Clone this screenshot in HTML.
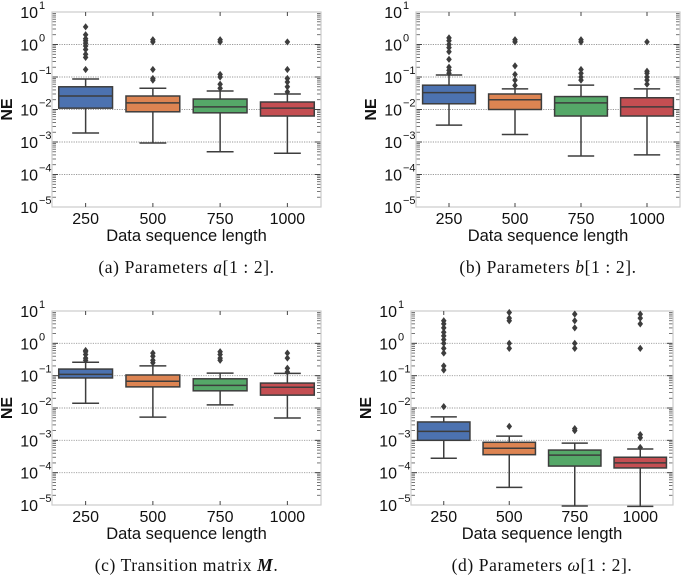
<!DOCTYPE html>
<html><head><meta charset="utf-8"><style>
body{margin:0;background:#fff;}
svg{display:block;font-family:"Liberation Sans",sans-serif;}
.cap{font-family:"Liberation Serif",serif;}
</style></head><body>
<svg id="fig" width="685" height="576" viewBox="0 0 685 576"></svg>
<script>
const categories = ["250","500","750","1000"];
const yTickExps = [1,0,-1,-2,-3,-4,-5];
const colors = ["#4c72b0","#dd8452","#55a868","#c44e52"];
// panel (a)
const aWhiskLo=[0.0019,0.00093,0.0005,0.00045];
const aQ1=[0.011,0.0085,0.0079,0.0063];
const aMed=[0.026,0.016,0.012,0.011];
const aQ3=[0.05,0.026,0.021,0.017];
const aWhiskHi=[0.087,0.045,0.037,0.03];
const aOut=[[0.17,0.4,0.5,0.7,0.9,1.1,1.3,1.5,2,3.5],[0.08,0.09,0.17,1.2,1.4],[0.045,0.06,0.1,0.12,1.2,1.4],[0.035,0.05,0.07,0.09,0.17,1.2]];
// panel (b)
const bWhiskLo=[0.0033,0.0017,0.00037,0.0004];
const bQ1=[0.015,0.01,0.0063,0.0063];
const bMed=[0.033,0.02,0.016,0.012];
const bQ3=[0.056,0.03,0.025,0.023];
const bWhiskHi=[0.115,0.043,0.056,0.043];
const bOut=[[0.13,0.16,0.2,0.35,0.6,0.8,1,1.3,1.6],[0.055,0.08,0.12,0.22,1.2,1.4],[0.08,0.1,0.13,0.17,1.2,1.4],[0.06,0.08,0.1,0.13,0.15,1.2]];
// panel (c)
const cWhiskLo=[0.014,0.0052,0.0125,0.0049];
const cQ1=[0.085,0.045,0.034,0.025];
const cMed=[0.11,0.067,0.05,0.044];
const cQ3=[0.16,0.105,0.08,0.059];
const cWhiskHi=[0.26,0.2,0.12,0.118];
const cOut=[[0.3,0.35,0.45,0.55,0.6],[0.25,0.3,0.4,0.5],[0.3,0.35,0.45,0.55],[0.13,0.17,0.35,0.5]];
// panel (d)
const dWhiskLo=[0.00028,0.000035,0.0000093,0.0000091];
const dQ1=[0.001,0.00036,0.00016,0.00014];
const dMed=[0.0019,0.00057,0.00035,0.0002];
const dQ3=[0.0037,0.00087,0.0005,0.0003];
const dWhiskHi=[0.0053,0.00135,0.00082,0.00054];
const dOut=[[0.011,0.15,0.2,0.5,0.7,1,1.3,1.7,2.2,3,4,5],[0.0027,0.7,1,5,6,9],[0.002,0.0023,0.7,1,3,5,8],[0.0006,0.0012,0.0015,0.7,4,6,8]];

const panels=[
 {id:"a",x0:52,x1:321,y0:12,y1:207,lo:aWhiskLo,q1:aQ1,med:aMed,q3:aQ3,hi:aWhiskHi,out:aOut,cap:["(a) Parameters ","a","[1 : 2]."]},
 {id:"b",x0:416,x1:680,y0:12,y1:207,lo:bWhiskLo,q1:bQ1,med:bMed,q3:bQ3,hi:bWhiskHi,out:bOut,cap:["(b) Parameters ","b","[1 : 2]."]},
 {id:"c",x0:52,x1:321,y0:311,y1:505,lo:cWhiskLo,q1:cQ1,med:cMed,q3:cQ3,hi:cWhiskHi,out:cOut,cap:["(c) Transition matrix ","M","."]},
 {id:"d",x0:411,x1:673,y0:311,y1:505,lo:dWhiskLo,q1:dQ1,med:dMed,q3:dQ3,hi:dWhiskHi,out:dOut,cap:["(d) Parameters ","ω","[1 : 2]."]}
];
const NS="http://www.w3.org/2000/svg";
const svg=document.getElementById("fig");
function mk(tag,attrs,parent){const e=document.createElementNS(NS,tag);for(const k in attrs)e.setAttribute(k,attrs[k]);(parent||svg).appendChild(e);return e;}

panels.forEach(p=>{
 const g=mk("g",{});
 
 
 const yS=v=>p.y0+(1-Math.log10(v))*(p.y1-p.y0)/6;
 const bw=(p.x1-p.x0)/categories.length;
 const xS=i=>p.x0+bw*(i+0.5);
 for(let e=-5;e<1;e++)for(let m=2;m<10;m++){const y=yS(m*Math.pow(10,e));
  mk("line",{x1:p.x0,x2:p.x0+4,y1:y,y2:y,stroke:"#555","stroke-width":0.8},g);
  mk("line",{x1:p.x1-4,x2:p.x1,y1:y,y2:y,stroke:"#555","stroke-width":0.8},g);}
 yTickExps.forEach(e=>{const y=yS(Math.pow(10,e));
  const gl=mk("line",{x1:p.x0,x2:p.x1,y1:y,y2:y,stroke:"#999","stroke-width":0.9,"stroke-dasharray":"1.2,1.2"},g);
  
  
  mk("line",{x1:p.x0,x2:p.x0+6,y1:y,y2:y,stroke:"#444","stroke-width":1},g);
  mk("line",{x1:p.x1-6,x2:p.x1,y1:y,y2:y,stroke:"#444","stroke-width":1},g);
  const t=mk("text",{x:p.x0-14,y:y+6,"text-anchor":"end","font-size":"16",fill:"#111"},g);
  
  
  t.textContent="10";
  const s=mk("text",{x:p.x0-13,y:y-3,"text-anchor":"start","font-size":"11",fill:"#111"},g);
  
  
  s.textContent=e<0?"\u2212"+(-e):String(e);
 });
 const fr=mk("rect",{x:p.x0,y:p.y0,width:p.x1-p.x0,height:p.y1-p.y0,fill:"none",stroke:"#ccc","stroke-width":1.2},g);
 
 
 categories.forEach((c,i)=>{
  const x=xS(i),w=bw*0.8;
  mk("line",{x1:x,x2:x,y1:p.y0,y2:p.y0+4,stroke:"#444","stroke-width":1},g);
  mk("line",{x1:x,x2:x,y1:p.y1-4,y2:p.y1,stroke:"#444","stroke-width":1},g);
  const bg=mk("g",{},g);
  
  
  const L="#3d3d3d";
  mk("line",{x1:x,x2:x,y1:yS(p.hi[i]),y2:yS(p.q3[i]),stroke:L,"stroke-width":1.5},bg);
  mk("line",{x1:x,x2:x,y1:yS(p.q1[i]),y2:yS(p.lo[i]),stroke:L,"stroke-width":1.5},bg);
  mk("line",{x1:x-w/4,x2:x+w/4,y1:yS(p.hi[i]),y2:yS(p.hi[i]),stroke:L,"stroke-width":1.5},bg);
  mk("line",{x1:x-w/4,x2:x+w/4,y1:yS(p.lo[i]),y2:yS(p.lo[i]),stroke:L,"stroke-width":1.5},bg);
  mk("rect",{x:x-w/2,y:yS(p.q3[i]),width:w,height:yS(p.q1[i])-yS(p.q3[i]),fill:colors[i],stroke:L,"stroke-width":1.5},bg);
  mk("line",{x1:x-w/2,x2:x+w/2,y1:yS(p.med[i]),y2:yS(p.med[i]),stroke:L,"stroke-width":1.5},bg);
  p.out[i].forEach(v=>{const y=yS(v);
   const d=mk("path",{d:`M${x},${y-3.6}L${x+2.8},${y}L${x},${y+3.6}L${x-2.8},${y}Z`,fill:"#3d3d3d"},bg);
   
   
  });
  const t=mk("text",{x:x,y:p.y1+17,"text-anchor":"middle","font-size":"16",fill:"#111"},g);
  
  
  t.textContent=c;
 });
 const xl=mk("text",{x:(p.x0+p.x1)/2,y:p.y1+34,"text-anchor":"middle","font-size":"16.5",fill:"#111"},g);
 
 
 xl.textContent="Data sequence length";
 const yx=p.x0-40,yy=(p.y0+p.y1)/2;
 const yl=mk("text",{x:yx,y:yy,"text-anchor":"middle","font-size":"16","font-weight":"bold",fill:"#111",transform:`rotate(-90 ${yx} ${yy})`},g);
 
 
 yl.textContent="NE";
 const cp=mk("text",{x:(p.x0+p.x1)/2,y:p.y1+66,"text-anchor":"middle","font-size":"17.5",fill:"#111",class:"cap","letter-spacing":"0.6"},g);
 
 
 const t1=mk("tspan",{},cp);t1.textContent=p.cap[0];
 const t2=mk("tspan",{"font-style":"italic","font-weight":p.id==="c"?"bold":"normal"},cp);t2.textContent=p.cap[1];
 const t3=mk("tspan",{},cp);t3.textContent=p.cap[2];
});
</script>
</body></html>
